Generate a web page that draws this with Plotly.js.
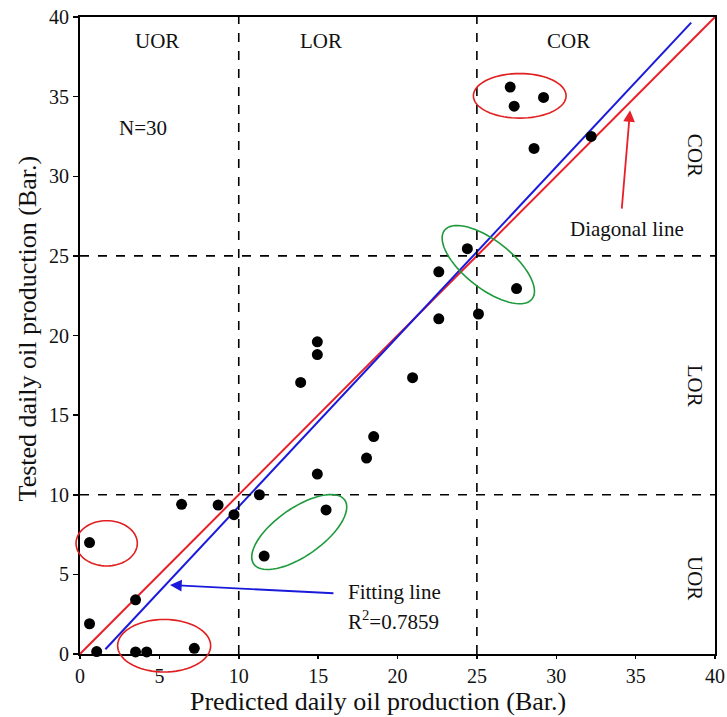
<!DOCTYPE html>
<html>
<head>
<meta charset="utf-8">
<script src="https://cdn.plot.ly/plotly-3.0.1.min.js"></script>
<style>html,body{margin:0;padding:0;background:#fff;}#chart{width:727px;height:717px;}</style>
</head>
<body>
<div id="chart"></div>
<script>
// Data
const predicted = [0.6, 0.6, 1.05, 3.5, 3.5, 4.2, 7.2, 6.4, 8.7, 9.7, 11.3, 11.6, 15.5, 14.95, 13.9, 14.95, 14.95, 18.05, 18.5, 20.95, 27.1, 27.35, 29.2, 28.6, 32.2, 24.4, 22.6, 27.5, 22.6, 25.1];
const tested    = [7.0, 1.9, 0.15, 3.4, 0.13, 0.13, 0.36, 9.4, 9.35, 8.75, 10.0, 6.15, 9.05, 11.3, 17.05, 18.8, 19.6, 12.3, 13.65, 17.35, 35.6, 34.4, 34.95, 31.75, 32.5, 25.45, 24.0, 22.95, 21.05, 21.35];
const diagX = [0, 40];
const diagY = [0, 40];
const fitX = [1.6, 38.5];
const fitY = [0.3, 39.65];
const tickVals = [0, 5, 10, 15, 20, 25, 30, 35, 40];
const zoneBounds = [10, 25];
const xTitle = "Predicted daily oil production (Bar.)";
const yTitle = "Tested daily oil production (Bar.)";

const FONT = "Liberation Serif, Times New Roman, serif";
const AX = {min: 0, max: 40};

function toPaper(v) { return (v - AX.min) / (AX.max - AX.min); }
function ellipsePath(cx, cy, a, b, angDeg) {
  const t = angDeg * Math.PI / 180;
  let d = "";
  const n = 72;
  for (let i = 0; i <= n; i++) {
    const s = 2 * Math.PI * i / n;
    const x = cx + a * Math.cos(s) * Math.cos(t) - b * Math.sin(s) * Math.sin(t);
    const y = cy + a * Math.cos(s) * Math.sin(t) + b * Math.sin(s) * Math.cos(t);
    d += (i === 0 ? "M" : "L") + toPaper(x).toFixed(5) + "," + toPaper(y).toFixed(5);
  }
  return d + "Z";
}

const traces = [
  {x: diagX, y: diagY, mode: "lines", line: {color: "#e8202a", width: 2}, hoverinfo: "skip"},
  {x: fitX, y: fitY, mode: "lines", line: {color: "#1a1adb", width: 2}, hoverinfo: "skip"},
  {x: predicted, y: tested, mode: "markers", marker: {color: "#000", size: 11}, cliponaxis: false}
];

const shapes = [];
zoneBounds.forEach(v => {
  shapes.push({type: "line", xref: "x", yref: "paper", x0: v, x1: v, y0: 0, y1: 1, line: {color: "#000", width: 1.6, dash: "dash"}});
  shapes.push({type: "line", xref: "paper", yref: "y", x0: 0, x1: 1, y0: v, y1: v, line: {color: "#000", width: 1.6, dash: "dash"}});
});
const ellipses = [
  {cx: 27.7, cy: 35.05, a: 2.92, b: 1.40, ang: 0, c: "#e02020"},
  {cx: 25.72, cy: 24.45, a: 3.5, b: 1.5, ang: -38, c: "#1e9a3c"},
  {cx: 13.81, cy: 7.66, a: 3.5, b: 1.5, ang: 35, c: "#1e9a3c"},
  {cx: 1.68, cy: 6.95, a: 1.93, b: 1.42, ang: 0, c: "#e02020"},
  {cx: 5.3, cy: 0.52, a: 2.93, b: 1.65, ang: 0, c: "#e02020"}
];
ellipses.forEach(e => shapes.push({type: "path", xref: "paper", yref: "paper", path: ellipsePath(e.cx, e.cy, e.a, e.b, e.ang), line: {color: e.c, width: 1.6}}));

const txt = (x, y, text, extra) => Object.assign({x: x, y: y, xref: "x", yref: "y", text: text, showarrow: false, font: {family: FONT, size: 21, color: "#111"}}, extra || {});

const annotations = [
  txt(4.82, 38.5, "UOR"),
  txt(15.18, 38.5, "LOR"),
  txt(30.76, 38.5, "COR"),
  txt(3.99, 33.04, "N=30"),
  txt(38.7, 31.32, "COR", {textangle: 90}),
  txt(38.7, 16.82, "LOR", {textangle: 90}),
  txt(38.7, 4.75, "UOR", {textangle: 90}),
  txt(34.46, 26.68, "Diagonal line"),
  txt(16.74, 3.91, "Fitting line", {xanchor: "left"}),
  txt(16.74, 2.13, "R<sup>2</sup>=0.7859", {xanchor: "left"}),
  {x: 34.65, y: 34.15, ax: 34.12, ay: 27.87, xref: "x", yref: "y", axref: "x", ayref: "y", text: "", showarrow: true, arrowhead: 2, arrowsize: 1.3, arrowwidth: 1.8, arrowcolor: "#e8202a"},
  {x: 5.67, y: 4.33, ax: 16.06, ay: 3.81, xref: "x", yref: "y", axref: "x", ayref: "y", text: "", showarrow: true, arrowhead: 2, arrowsize: 1.3, arrowwidth: 1.8, arrowcolor: "#1a1adb"},
  {x: 0.469, y: -0.074, xref: "paper", yref: "paper", text: xTitle, showarrow: false, yanchor: "middle", font: {family: FONT, size: 26, color: "#111"}},
  {x: -0.082, y: 0.511, xref: "paper", yref: "paper", text: yTitle, showarrow: false, textangle: -90, xanchor: "center", font: {family: FONT, size: 26, color: "#111"}}
];

const axisCommon = {
  range: [AX.min, AX.max], tickvals: tickVals, ticktext: tickVals.map(String),
  showgrid: false, zeroline: false, showline: true, linecolor: "#000", linewidth: 2, mirror: true,
  ticks: "outside", ticklen: 5, tickwidth: 1.5, tickcolor: "#000",
  tickfont: {family: FONT, size: 20, color: "#111"}
};

const layout = {
  width: 727, height: 717,
  margin: {l: 80, r: 12, t: 17, b: 63},
  paper_bgcolor: "#fff", plot_bgcolor: "#fff",
  showlegend: false,
  xaxis: Object.assign({}, axisCommon, {ticklen: 3}),
  yaxis: Object.assign({}, axisCommon),
  shapes: shapes,
  annotations: annotations
};

Plotly.newPlot("chart", traces, layout, {displayModeBar: false, staticPlot: true});
</script>
</body>
</html>
